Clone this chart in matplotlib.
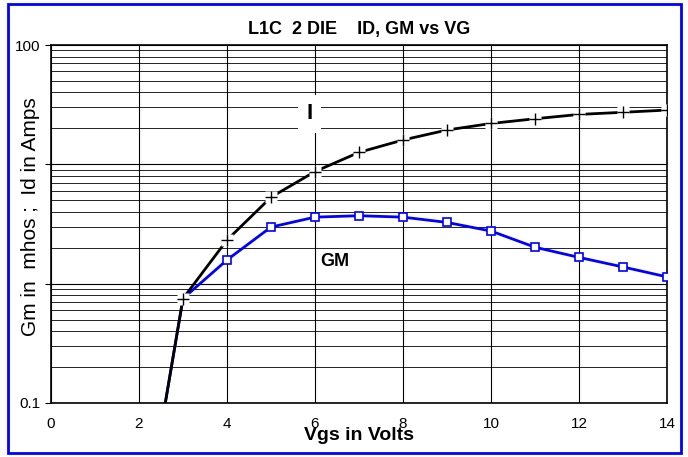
import matplotlib.pyplot as plt
import matplotlib.patches as patches
from matplotlib.ticker import LogLocator, FixedLocator, NullFormatter

plt.rcParams['font.family'] = ['Liberation Sans', 'DejaVu Sans']

# data
vgs = [2, 3, 4, 5, 6, 7, 8, 9, 10, 11, 12, 13, 14]
id_amps = [0.005, 0.75, 2.32, 5.3, 8.7, 12.6, 16.0, 19.4, 22.0, 24.1, 26.2, 27.3, 28.5]
gm_mhos = [0.005, 0.75, 1.58, 2.98, 3.61, 3.71, 3.61, 3.26, 2.76, 2.02, 1.66, 1.38, 1.14]

x_ticks = [0, 2, 4, 6, 8, 10, 12, 14]
y_ticks = [0.1, 1, 10, 100]
y_tick_labels = ['0.1', '', '', '100']

fig = plt.figure(figsize=(6.88, 4.57), dpi=100)
ax = fig.add_axes([0.0741, 0.1182, 0.8954, 0.7833])

# blue outer frame
fig.patches.append(patches.Rectangle((0.012, 0.009), 0.978, 0.982, transform=fig.transFigure,
                                     fill=False, edgecolor='#0000ff', linewidth=2))

ax.set_yscale('log')
ax.set_xlim(0, 14)
ax.set_ylim(0.1, 100)

ax.grid(True, which='major', axis='both', color='black', linewidth=0.8)
ax.grid(True, which='minor', axis='y', color='black', linewidth=0.6)
ax.yaxis.set_minor_locator(LogLocator(base=10, subs=range(2, 10)))
ax.yaxis.set_minor_formatter(NullFormatter())
ax.xaxis.set_major_locator(FixedLocator(x_ticks))
ax.yaxis.set_major_locator(FixedLocator(y_ticks))
ax.set_yticklabels(y_tick_labels)
ax.tick_params(axis='y', which='major', length=4, labelsize=11)
ax.tick_params(axis='y', which='minor', length=0)
ax.tick_params(axis='x', length=0, labelsize=11, pad=10)
for s in ax.spines.values():
    s.set_linewidth(1.2)

# GM curve (blue squares)
ax.plot(vgs, gm_mhos, color='#0000ff', linewidth=2, zorder=3, clip_on=True)
ax.plot(vgs[2:], gm_mhos[2:], linestyle='none', marker='s', markersize=6,
        markerfacecolor='white', markeredgecolor='#0000ff', markeredgewidth=1.2, zorder=4)

# ID curve (black crosses with white gap)
ax.plot(vgs, id_amps, color='black', linewidth=2, zorder=5)
ax.plot(vgs[1:], id_amps[1:], linestyle='none', marker='s', markersize=8,
        markerfacecolor='white', markeredgecolor='none', zorder=6)
ax.plot(vgs[1:], id_amps[1:], linestyle='none', marker='+', markersize=8,
        color='black', markeredgewidth=1, zorder=7)

ax.text(5.88, 26.5, 'I', fontsize=16, fontweight='bold', ha='center', va='center',
        bbox=dict(facecolor='white', edgecolor='none', pad=6), zorder=8)
ax.text(6.45, 1.52, 'GM', fontsize=13, fontweight='bold', ha='center', va='center', zorder=8)

ax.set_title('L1C  2 DIE    ID, GM vs VG', fontsize=13, fontweight='bold', pad=8)
ax.set_xlabel('Vgs in Volts', fontsize=14, fontweight='bold', labelpad=-3)
ax.set_ylabel('Gm in  mhos ;  Id in Amps', fontsize=15)
ax.yaxis.set_label_coords(-0.018, 0.52)

fig.savefig('out.png', dpi=100)
